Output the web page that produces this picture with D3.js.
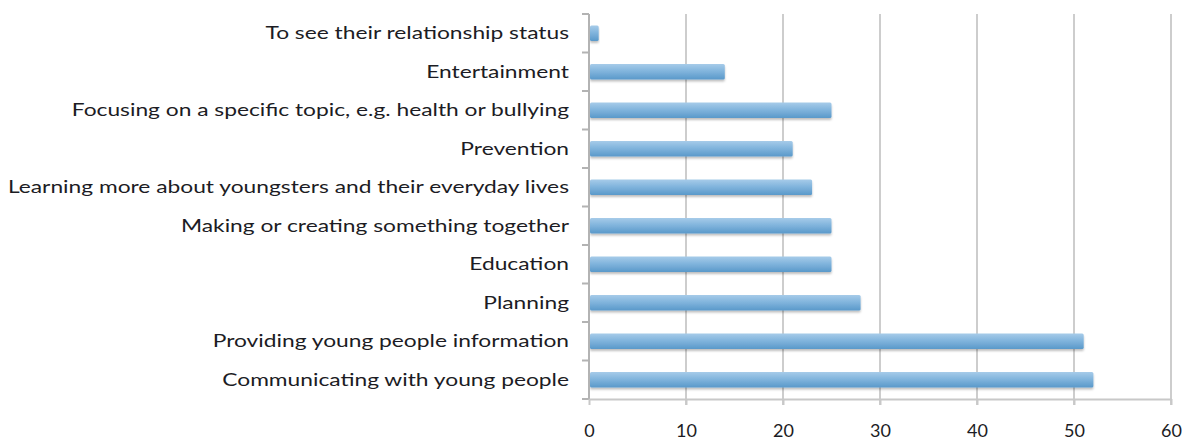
<!DOCTYPE html>
<html>
<head>
<meta charset="utf-8">
<script src="https://cdn.jsdelivr.net/npm/d3@7"></script>
<style>
  html, body { margin: 0; padding: 0; background: #fff; }
  svg { display: block; }
  .lbl { font-family: Lato, "Open Sans", sans-serif; font-size: 17px; fill: #1c1c24; }
  .tkl { font-family: Lato, "Open Sans", sans-serif; font-size: 18px; fill: #1c1c24; }
</style>
</head>
<body>
<svg id="chart" width="1194" height="441"></svg>
<script>
// Purposes, listed top to bottom
const categories = [
  "To see their relationship status",
  "Entertainment",
  "Focusing on a specific topic, e.g. health or bullying",
  "Prevention",
  "Learning more about youngsters and their everyday lives",
  "Making or creating something together",
  "Education",
  "Planning",
  "Providing young people information",
  "Communicating with young people"
];
const values = [1, 14, 25, 21, 23, 25, 25, 28, 51, 52];
const xTicks = [0, 10, 20, 30, 40, 50, 60];

const svg = d3.select("#chart");
const margin = { top: 14, right: 23, bottom: 42, left: 589 };
const W = 1194, H = 441;
const labelStretch = 1.34;   // wide, horizontally stretched category labels

const x = d3.scaleLinear().domain([0, 60]).range([margin.left, W - margin.right]);
const y = d3.scaleBand().domain(categories).range([margin.top, H - margin.bottom]).paddingInner(0.6).paddingOuter(0.3);

// bar fill: light top edge, deeper blue toward the bottom
const defs = svg.append("defs");
const grad = defs.append("linearGradient").attr("id", "barGrad")
  .attr("x1", 0).attr("y1", 0).attr("x2", 0).attr("y2", 1);
grad.append("stop").attr("offset", "0%").attr("stop-color", "#a6cbe9");
grad.append("stop").attr("offset", "45%").attr("stop-color", "#82b5dd");
grad.append("stop").attr("offset", "100%").attr("stop-color", "#5a99ca");
const sh = defs.append("filter").attr("id", "shadow").attr("x", "-5%").attr("y", "-30%").attr("width", "110%").attr("height", "180%");
sh.append("feDropShadow").attr("dx", 0).attr("dy", 2).attr("stdDeviation", 1.2)
  .attr("flood-color", "#000").attr("flood-opacity", 0.25);

// vertical gridlines
svg.append("g").selectAll("line").data(xTicks.filter(d => d > 0)).join("line")
  .attr("x1", d => x(d)).attr("x2", d => x(d))
  .attr("y1", margin.top).attr("y2", H - margin.bottom + 6)
  .attr("stroke", "#cdcdcd").attr("stroke-width", 2);

// bars
svg.append("g").selectAll("rect").data(values).join("rect")
  .attr("x", x(0) + 1)
  .attr("y", (d, i) => y(categories[i]))
  .attr("width", d => x(d) - x(0) - 1)
  .attr("height", y.bandwidth())
  .attr("rx", 1.5)
  .attr("fill", "url(#barGrad)")
  .attr("filter", "url(#shadow)");

// category axis with ticks at band boundaries
const yAxis = svg.append("g").attr("transform", `translate(${margin.left},0)`);
yAxis.append("line").attr("x1", 0).attr("x2", 0)
  .attr("y1", margin.top).attr("y2", H - margin.bottom)
  .attr("stroke", "#b3b3b3").attr("stroke-width", 2);
const bounds = d3.range(categories.length + 1).map(i => margin.top + i * y.step());
yAxis.selectAll("line.tk").data(bounds).join("line").attr("class", "tk")
  .attr("x1", -7).attr("x2", 0).attr("y1", d => d).attr("y2", d => d)
  .attr("stroke", "#b3b3b3").attr("stroke-width", 2);
yAxis.selectAll("text").data(categories).join("text")
  .attr("class", "lbl")
  .attr("transform", d => `translate(-20,${y(d) + y.bandwidth() / 2}) scale(${labelStretch},1)`)
  .attr("dy", "0.35em")
  .attr("text-anchor", "end")
  .text(d => d);

// value axis
const xAxis = d3.axisBottom(x).tickValues(xTicks).tickSize(6).tickPadding(19).tickSizeOuter(0);
const gx = svg.append("g").attr("transform", `translate(0,${H - margin.bottom})`).call(xAxis);
gx.select(".domain").attr("stroke", "#c8c8c8").attr("stroke-width", 2);
gx.selectAll(".tick line").attr("stroke", "#c8c8c8").attr("stroke-width", 2);
gx.selectAll(".tick text").attr("class", "tkl").attr("fill", null);
</script>
</body>
</html>
